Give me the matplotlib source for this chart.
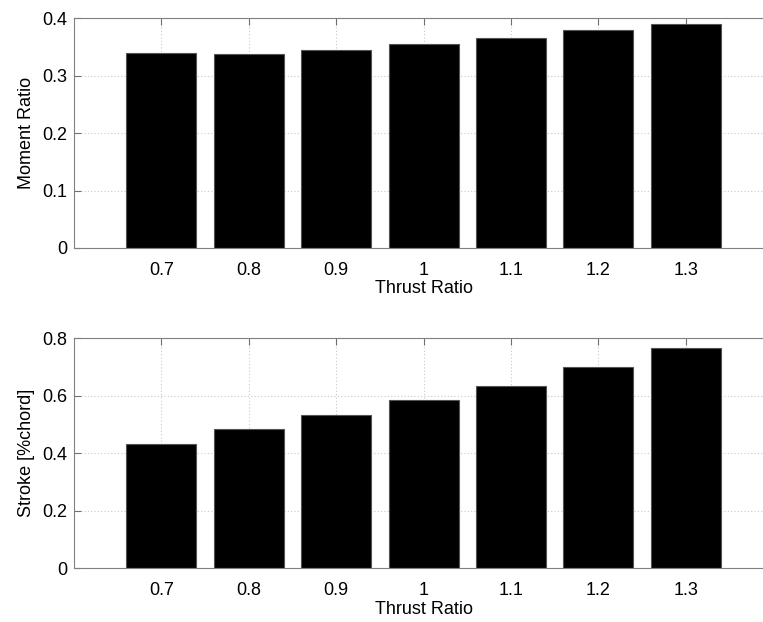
import matplotlib.pyplot as plt

thrust_ratio = [0.7, 0.8, 0.9, 1.0, 1.1, 1.2, 1.3]
tick_labels = ["0.7", "0.8", "0.9", "1", "1.1", "1.2", "1.3"]
moment_ratio = [0.339, 0.338, 0.345, 0.355, 0.365, 0.379, 0.390]
stroke = [0.431, 0.483, 0.534, 0.584, 0.634, 0.701, 0.767]

plt.rcParams["font.family"] = ["Liberation Sans", "DejaVu Sans"]
plt.rcParams["font.size"] = 13

fig = plt.figure(figsize=(7.63, 6.22), dpi=100)

ax1 = fig.add_axes([0.097, 0.6013, 0.9164, 0.3693])
ax2 = fig.add_axes([0.097, 0.0864, 0.9164, 0.3698])


def style(ax, ylim, yticks, ylabel):
    ax.set_xlim(0.6, 1.4)
    ax.set_ylim(*ylim)
    ax.set_xticks(thrust_ratio)
    ax.set_xticklabels(tick_labels)
    ax.set_yticks(yticks)
    ax.set_yticklabels([("%g" % v) for v in yticks])
    ax.grid(True, linestyle=(0, (1, 2)), color="#c8c8c8", linewidth=0.8)
    ax.set_axisbelow(True)
    ax.tick_params(direction="in", length=5, color="#707070", top=True, right=False)
    ax.tick_params(axis="x", pad=10)
    ax.tick_params(axis="y", pad=5)
    for s in ["left", "bottom", "top"]:
        ax.spines[s].set_color("#808080")
    ax.spines["right"].set_visible(False)
    ax.set_xlabel("Thrust Ratio", labelpad=1)
    ax.set_ylabel(ylabel, labelpad=5)


ax1.bar(thrust_ratio, moment_ratio, width=0.08, color="black", edgecolor="#555555", linewidth=0.8)
style(ax1, (0, 0.4), [0, 0.1, 0.2, 0.3, 0.4], "Moment Ratio")

ax2.bar(thrust_ratio, stroke, width=0.08, color="black", edgecolor="#555555", linewidth=0.8)
style(ax2, (0, 0.8), [0, 0.2, 0.4, 0.6, 0.8], "Stroke [%chord]")

fig.savefig("out.png", dpi=100)
